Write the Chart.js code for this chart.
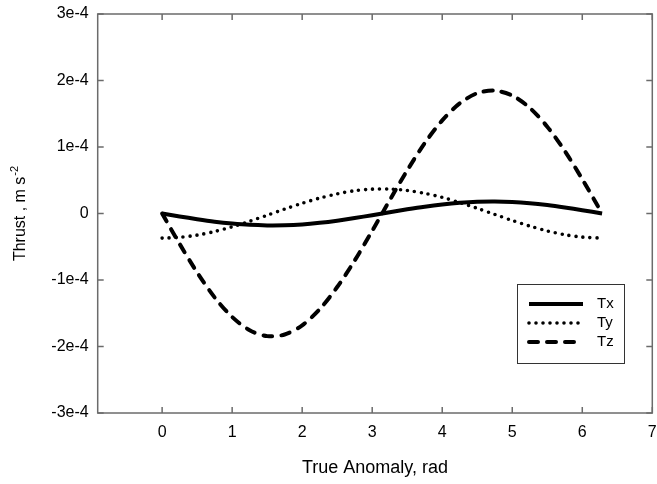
<!DOCTYPE html>
<html>
<head>
<meta charset="utf-8">
<script src="https://cdn.jsdelivr.net/npm/chart.js@4/dist/chart.umd.min.js"></script>
<style>
  html, body { margin: 0; padding: 0; background: #fff; }
  #wrap { width: 657px; height: 484px; }
</style>
</head>
<body>
<div id="wrap"><canvas id="thrust-chart" width="657" height="484"></canvas></div>
<script>
// true anomaly samples, rad
const anomaly = [0, 0.25, 0.5, 0.75, 1.0, 1.25, 1.5, 1.75, 2.0, 2.25, 2.5, 2.75, 3.0,
  3.25, 3.5, 3.75, 4.0, 4.25, 4.5, 4.75, 5.0, 5.25, 5.5, 5.75, 6.0, 6.283];

// thrust components, m s^-2
const tx = [0, -0.44e-5, -0.86e-5, -1.23e-5, -1.51e-5, -1.71e-5, -1.79e-5, -1.77e-5, -1.64e-5,
  -1.40e-5, -1.08e-5, -0.69e-5, -0.25e-5, 0.19e-5, 0.63e-5, 1.03e-5, 1.36e-5, 1.61e-5,
  1.76e-5, 1.80e-5, 1.73e-5, 1.55e-5, 1.27e-5, 0.91e-5, 0.50e-5, 0];
const ty = [-3.70e-5, -3.59e-5, -3.25e-5, -2.71e-5, -2.00e-5, -1.17e-5, -0.26e-5, 0.66e-5,
  1.54e-5, 2.32e-5, 2.96e-5, 3.42e-5, 3.66e-5, 3.68e-5, 3.46e-5, 3.03e-5, 2.42e-5, 1.65e-5,
  0.78e-5, -0.14e-5, -1.05e-5, -1.89e-5, -2.62e-5, -3.19e-5, -3.55e-5, -3.70e-5];
const tz = [0, -4.57e-5, -8.86e-5, -12.62e-5, -15.56e-5, -17.56e-5, -18.44e-5, -18.20e-5,
  -16.82e-5, -14.39e-5, -11.06e-5, -7.07e-5, -2.61e-5, 2.00e-5, 6.49e-5, 10.58e-5, 14.00e-5,
  16.56e-5, 18.09e-5, 18.48e-5, 17.74e-5, 15.89e-5, 13.06e-5, 9.40e-5, 5.16e-5, 0];

const seriesNames = ['Tx', 'Ty', 'Tz'];

const xTicks = [0, 1, 2, 3, 4, 5, 6, 7];
const yTicks = [-3e-4, -2e-4, -1e-4, 0, 1e-4, 2e-4, 3e-4];
const yTickLabels = ['-3e-4', '-2e-4', '-1e-4', '0', '1e-4', '2e-4', '3e-4'];

const Y_TITLE = 'Thrust , m s',
  Y_TITLE_SUP = '-2';

const AXIS_COLOR = '#6b6b6b',
  FONT = 'Liberation Sans, Arial, sans-serif';

function points(ys) {
  return anomaly.map((x, i) => ({ x: x, y: ys[i] }));
}

// box around the plot with inward ticks on all four sides
const frame = {
  id: 'frame',
  afterDatasetsDraw(chart) {
    const ctx = chart.ctx, a = chart.chartArea;
    const xs = chart.scales.x, ys = chart.scales.y;
    const len = 6;
    ctx.save();
    ctx.strokeStyle = AXIS_COLOR;
    ctx.lineWidth = 1.5;
    ctx.strokeRect(a.left, a.top, a.right - a.left, a.bottom - a.top);
    ctx.beginPath();
    xTicks.forEach(v => {
      const px = xs.getPixelForValue(v);
      ctx.moveTo(px, a.bottom); ctx.lineTo(px, a.bottom - len);
      ctx.moveTo(px, a.top); ctx.lineTo(px, a.top + len);
    });
    yTicks.forEach(v => {
      const py = ys.getPixelForValue(v);
      ctx.moveTo(a.left, py); ctx.lineTo(a.left + len, py);
      ctx.moveTo(a.right, py); ctx.lineTo(a.right - len, py);
    });
    ctx.stroke();
    ctx.restore();
  }
};

// rotated y title with a real superscript exponent
const yTitle = {
  id: 'yTitle',
  afterDraw(chart) {
    const ctx = chart.ctx, a = chart.chartArea;
    ctx.save();
    ctx.translate(21, (a.top + a.bottom) / 2);
    ctx.rotate(-Math.PI / 2);
    ctx.fillStyle = '#000';
    ctx.textBaseline = 'middle';
    ctx.font = '16px ' + FONT;
    const w1 = ctx.measureText(Y_TITLE).width;
    ctx.font = '11px ' + FONT;
    const w2 = ctx.measureText(Y_TITLE_SUP).width;
    const start = -(w1 + w2 + 1) / 2;
    ctx.font = '16px ' + FONT;
    ctx.fillText(Y_TITLE, start, 0);
    ctx.font = '11px ' + FONT;
    ctx.fillText(Y_TITLE_SUP, start + w1 + 1, -6);
    ctx.restore();
  }
};

// boxed legend in the lower right of the plot
const boxLegend = {
  id: 'boxLegend',
  afterDraw(chart) {
    const ctx = chart.ctx;
    const left = 517, top = 284, w = 107, h = 79;
    ctx.save();
    ctx.fillStyle = '#fff';
    ctx.fillRect(left, top, w, h);
    ctx.strokeStyle = '#333';
    ctx.lineWidth = 1;
    ctx.strokeRect(left + 0.5, top + 0.5, w, h);
    chart.data.datasets.forEach((ds, i) => {
      const y = top + 20 + i * 19;
      ctx.beginPath();
      ctx.strokeStyle = ds.borderColor;
      ctx.lineWidth = ds.borderWidth;
      ctx.lineCap = ds.borderCapStyle || 'butt';
      ctx.setLineDash(ds.borderDash || []);
      ctx.moveTo(left + 12, y);
      ctx.lineTo(left + 66, y);
      ctx.stroke();
      ctx.setLineDash([]);
      ctx.fillStyle = '#000';
      ctx.font = '15px ' + FONT;
      ctx.textBaseline = 'middle';
      ctx.fillText(ds.label, left + 80, y);
    });
    ctx.restore();
  }
};

new Chart(document.getElementById('thrust-chart'), {
  type: 'line',
  data: {
    datasets: [{
      label: seriesNames[0],
      data: points(tx),
      borderColor: '#000',
      borderWidth: 4,
      borderCapStyle: 'butt',
      pointRadius: 0,
      tension: 0.3,
      fill: false
    }, {
      label: seriesNames[1],
      data: points(ty),
      borderColor: '#000',
      borderWidth: 3.6,
      borderDash: [0, 7],
      borderCapStyle: 'round',
      pointRadius: 0,
      tension: 0.3,
      fill: false
    }, {
      label: seriesNames[2],
      data: points(tz),
      borderColor: '#000',
      borderWidth: 4,
      borderDash: [9, 9],
      borderCapStyle: 'round',
      pointRadius: 0,
      tension: 0.3,
      fill: false
    }]
  },
  options: {
    responsive: false,
    animation: false,
    layout: { padding: { left: 0, top: 14, right: 4.7, bottom: 0 } },
    plugins: {
      legend: { display: false },
      tooltip: { enabled: false }
    },
    scales: {
      x: {
        type: 'linear',
        min: -0.92,
        max: 7,
        afterBuildTicks: scale => { scale.ticks = xTicks.map(v => ({ value: v })); },
        afterFit: scale => { scale.height = 71; scale.paddingLeft = 0; scale.paddingRight = 0; },
        grid: { display: false, drawTicks: false },
        border: { display: false },
        ticks: { color: '#000', font: { family: FONT, size: 16 }, padding: 10, maxRotation: 0 },
        title: {
          display: true,
          text: 'True Anomaly, rad',
          color: '#000',
          font: { family: FONT, size: 18 },
          padding: { top: 4, bottom: 5 }
        }
      },
      y: {
        type: 'linear',
        min: -3e-4,
        max: 3e-4,
        afterBuildTicks: scale => { scale.ticks = yTicks.map(v => ({ value: v })); },
        afterFit: scale => { scale.width = 97.7; scale.paddingTop = 0; scale.paddingBottom = 0; },
        grid: { display: false, drawTicks: false },
        border: { display: false },
        ticks: {
          color: '#000',
          font: { family: FONT, size: 16 },
          padding: 9,
          callback: (v, i) => yTickLabels[i]
        }
      }
    }
  },
  plugins: [frame, yTitle, boxLegend]
});
</script>
</body>
</html>
